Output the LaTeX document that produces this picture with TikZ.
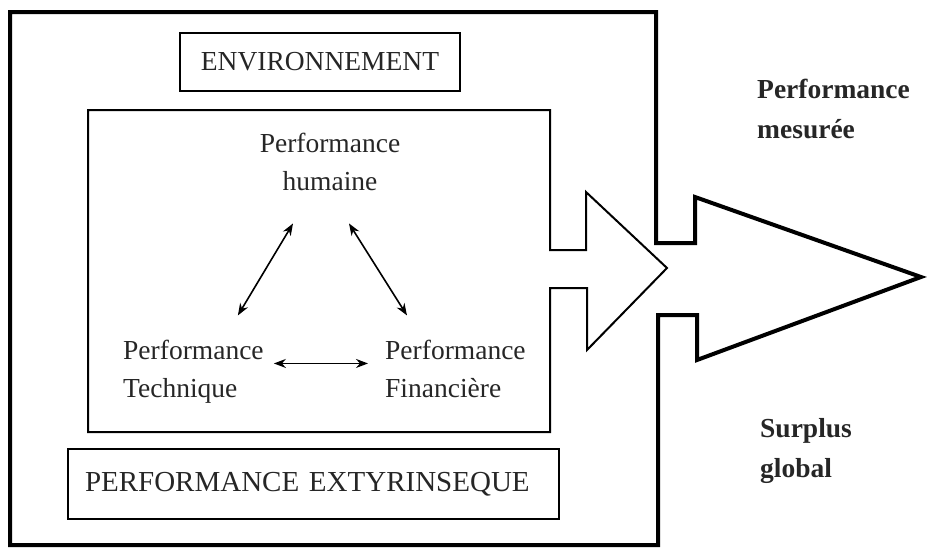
\documentclass[tikz,border=0pt]{standalone}
\usepackage{fontspec}
\setmainfont{Liberation Serif}
\usetikzlibrary{arrows.meta,calc}
\begin{document}
\begin{tikzpicture}[x=1pt,y=-1pt,
  txt/.style={font=\fontsize{27.5}{38}\selectfont, inner sep=0pt, text=black!85},
  boldtxt/.style={font=\fontsize{27.5}{40}\selectfont\bfseries, inner sep=0pt, text=black!85, align=left},
  heavy/.style={line width=4pt, line join=miter},
  light/.style={line width=2pt, line join=miter},
  labelbox/.style={draw, line width=2pt, inner sep=0pt},
  link/.style={line width=1.6pt, {Stealth[length=12pt,width=9pt]}-{Stealth[length=12pt,width=9pt]}}
]
\useasboundingbox (0,0) rectangle (927,547);

% outer frame merging into the large arrow
\draw[heavy] (656,243) -- (656,12) -- (10,12) -- (10,545) -- (658,545)
  -- (658,315) -- (697,315) -- (697,360) -- (921,277) -- (695,197)
  -- (695,243) -- cycle;

% inner frame with its smaller arrow
\draw[light] (550,250) -- (550,110) -- (88,110) -- (88,432) -- (550,432)
  -- (550,288) -- (587,288) -- (587,350) -- (667,268) -- (586,192)
  -- (586,250) -- cycle;

% boxed titles
\node[labelbox, txt, minimum width=280pt, minimum height=58pt] (env) at (320,62) {ENVIRONNEMENT};
\node[labelbox, txt, font=\fontsize{29}{38}\selectfont, text width=457pt, inner xsep=17pt, minimum height=70pt, align=left] (ext) at (313.5,484) {PERFORMANCE EXTYRINSEQUE};

% the three performances (base anchor sits on the last line)
\node[txt, align=center, anchor=base] (hum) at (330,190) {Performance\\humaine};
\node[txt, align=left, anchor=base west] (tech) at (123,397) {Performance\\Technique};
\node[txt, align=left, anchor=base west] (fin) at (385,397) {Performance\\Financière};

% links between them
\draw[link] ($(hum.south)+(-37,33)$) -- ($(tech.north east)+(-26,-24)$);
\draw[link] ($(hum.south)+(19,33)$) -- ($(fin.north west)+(22,-24)$);
\draw[link] ($(tech.east |- fin.west)+(10,-5)$) -- ($(fin.west)+(-17,-5)$);

% outputs
\node[boldtxt, anchor=base west] (mes) at (757,138) {Performance\\mesurée};
\node[boldtxt, anchor=base west] (sur) at (760,477) {Surplus\\global};
\end{tikzpicture}
\end{document}
